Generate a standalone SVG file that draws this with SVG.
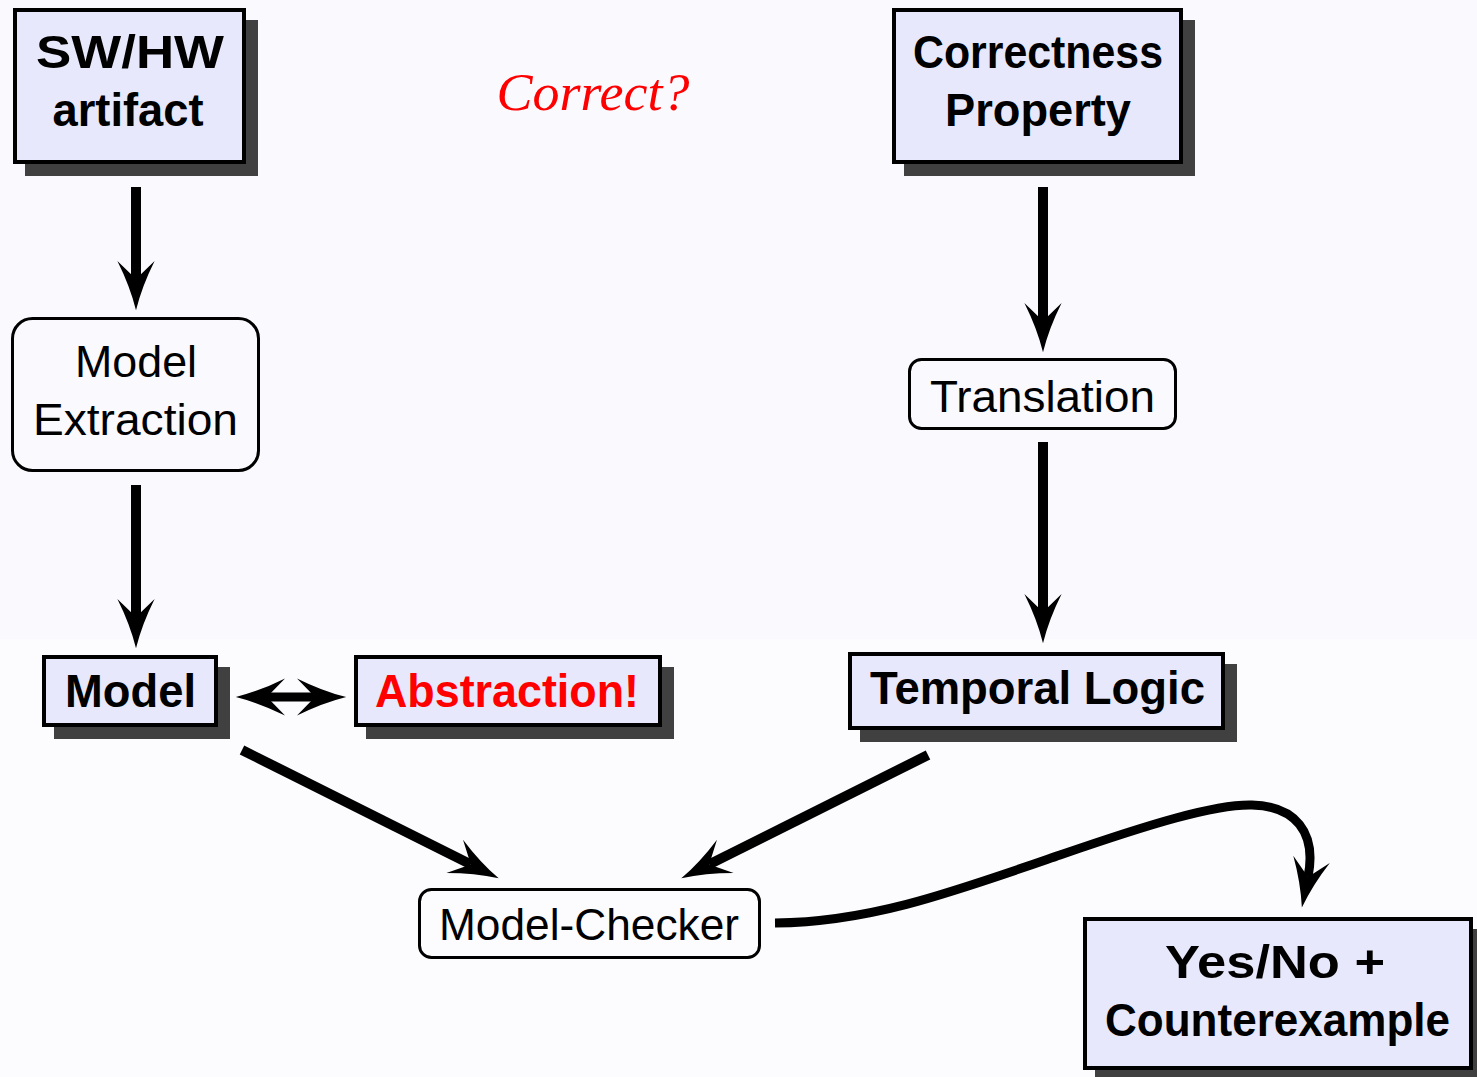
<svg xmlns="http://www.w3.org/2000/svg" width="1477" height="1077" viewBox="0 0 1477 1077">
  <style>
    .shadow { fill: #404040; }
    .box { fill: #e8e8fc; stroke: #000; stroke-width: 4; }
    .rbox { fill: none; stroke: #000; stroke-width: 3; }
    .bold { font-family: "Liberation Sans", Arial, sans-serif; font-weight: bold; font-size: 46px; fill: #000; text-anchor: middle; }
    .plain { font-family: "Liberation Sans", Arial, sans-serif; font-size: 45px; fill: #000; text-anchor: middle; }
    .red { fill: #ff0000; }
    .edge { fill: none; stroke: #000; stroke-width: 10; }
  </style>
  <defs>
    <marker id="head" markerUnits="userSpaceOnUse" markerWidth="60" markerHeight="60" refX="0" refY="0" viewBox="-20 -20 50 40" orient="auto-start-reverse" overflow="visible">
      <path d="M26,0 Q6,-5 -15,-15.5 L0,0 L-15,15.5 Q6,5 26,0 Z" fill="#000"/>
    </marker>
  </defs>

  <!-- page background -->
  <rect x="0" y="0" width="1477" height="1077" fill="#fcfcff"/>
  <rect x="0" y="0" width="1477" height="639" fill="#f9f9fe"/>

  <!-- connectors -->
  <g id="connectors">
    <path class="edge" d="M136,187 L136,279" marker-end="url(#head)"/>
    <path class="edge" d="M136,485 L136,617" marker-end="url(#head)"/>
    <path class="edge" d="M1043,187 L1043,321" marker-end="url(#head)"/>
    <path class="edge" d="M1043,442 L1043,612" marker-end="url(#head)"/>
    <path class="edge" style="stroke-width:9" d="M267,697 L315,697" marker-start="url(#head)" marker-end="url(#head)"/>
    <path class="edge" d="M242,750 L470.8,864.4" marker-end="url(#head)"/>
    <path class="edge" d="M928,755 L709.2,864.4" marker-end="url(#head)"/>
    <path class="edge" style="stroke-width:9" d="M775,923 C870,922 950,893 1060,855 C1150,824 1215,804 1252,805 C1295,806 1317,832 1308,877" marker-end="url(#head)"/>
  </g>

  <!-- question label -->
  <text x="593" y="110" font-family="'Liberation Serif', 'Times New Roman', serif" font-style="italic" font-size="52" fill="#ff0000" text-anchor="middle" textLength="193" lengthAdjust="spacingAndGlyphs">Correct?</text>

  <g id="artifact">
    <rect class="shadow" x="25" y="20" width="233" height="156"/>
    <rect class="box" x="15" y="10" width="229" height="152"/>
    <text class="bold" x="130" y="68" textLength="188" lengthAdjust="spacingAndGlyphs">SW/HW</text>
    <text class="bold" x="128" y="126" textLength="151" lengthAdjust="spacingAndGlyphs">artifact</text>
  </g>

  <g id="property">
    <rect class="shadow" x="904" y="20" width="291" height="156"/>
    <rect class="box" x="894" y="10" width="287" height="152"/>
    <text class="bold" x="1038" y="68" textLength="250" lengthAdjust="spacingAndGlyphs">Correctness</text>
    <text class="bold" x="1038" y="126" textLength="186" lengthAdjust="spacingAndGlyphs">Property</text>
  </g>

  <g id="extraction">
    <rect class="rbox" x="12.5" y="318.5" width="246" height="152" rx="20"/>
    <text class="plain" x="136" y="377" textLength="122" lengthAdjust="spacingAndGlyphs">Model</text>
    <text class="plain" x="135.5" y="435" textLength="205" lengthAdjust="spacingAndGlyphs">Extraction</text>
  </g>

  <g id="translation">
    <rect class="rbox" x="909.5" y="359.5" width="266" height="69" rx="12"/>
    <text class="plain" x="1042.5" y="412" textLength="225" lengthAdjust="spacingAndGlyphs">Translation</text>
  </g>

  <g id="model">
    <rect class="shadow" x="54" y="667" width="176" height="72"/>
    <rect class="box" x="44" y="657" width="172" height="68"/>
    <text class="bold" x="130.5" y="707" textLength="131" lengthAdjust="spacingAndGlyphs">Model</text>
  </g>

  <g id="abstraction">
    <rect class="shadow" x="366" y="667" width="308" height="72"/>
    <rect class="box" x="356" y="657" width="304" height="68"/>
    <text class="bold red" x="507" y="707" textLength="264" lengthAdjust="spacingAndGlyphs">Abstraction!</text>
  </g>

  <g id="temporal-logic">
    <rect class="shadow" x="860" y="664" width="377" height="78"/>
    <rect class="box" x="850" y="654" width="373" height="74"/>
    <text class="bold" x="1037.5" y="704" textLength="335" lengthAdjust="spacingAndGlyphs">Temporal Logic</text>
  </g>

  <g id="model-checker">
    <rect class="rbox" x="419.5" y="889.5" width="340" height="68" rx="12"/>
    <text class="plain" x="589" y="940" textLength="300" lengthAdjust="spacingAndGlyphs">Model-Checker</text>
  </g>

  <g id="verdict">
    <rect class="shadow" x="1095" y="929" width="390" height="153"/>
    <rect class="box" x="1085" y="919" width="386" height="149"/>
    <text class="bold" x="1275" y="978" textLength="220" lengthAdjust="spacingAndGlyphs">Yes/No +</text>
    <text class="bold" x="1277.5" y="1036" textLength="345" lengthAdjust="spacingAndGlyphs">Counterexample</text>
  </g>
</svg>
